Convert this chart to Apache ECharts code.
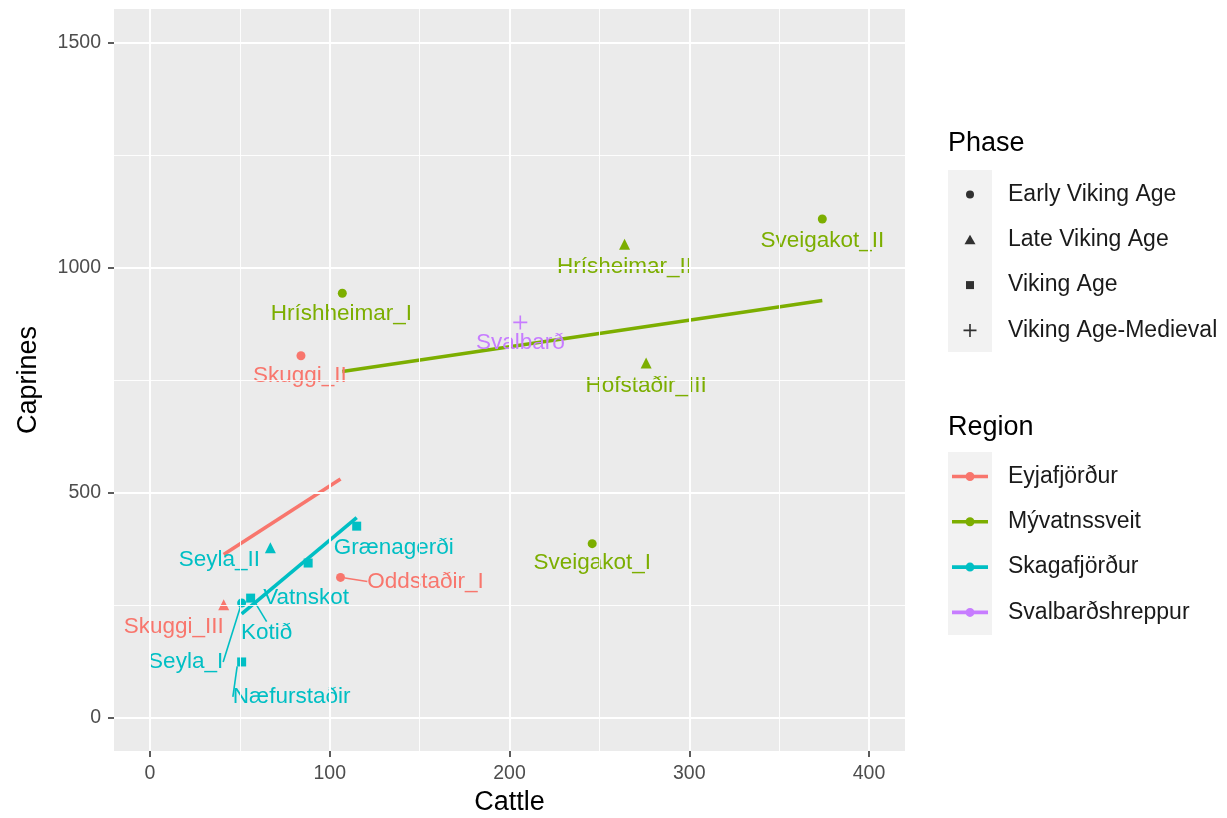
<!DOCTYPE html>
<html>
<head>
<meta charset="utf-8">
<script src="https://cdn.jsdelivr.net/npm/echarts@6/dist/echarts.min.js"></script>
<style>
  html, body { margin: 0; padding: 0; background: #ffffff; }
  #chart { width: 1227px; height: 818px; }
</style>
</head>
<body>
<div id="chart"></div>
<script>
// Livestock counts per site
const sites    = ['Sveigakot_II', 'Hrísheimar_II', 'Hríshheimar_I', 'Svalbarð', 'Skuggi_II', 'Hofstaðir_III', 'Sveigakot_I',
                  'Seyla_II', 'Grænagerði', 'Oddstaðir_I', 'Vatnskot', 'Kotið', 'Seyla_I', 'Næfurstaðir', 'Skuggi_III'];
const cattle   = [374, 264, 107, 206, 84, 276, 246, 67, 115, 106, 88, 56, 51, 51, 41];
const caprines = [1108, 1052, 943, 878, 804, 788, 386, 377, 425, 311, 343, 265, 254, 123, 250];
const phase    = ['Early Viking Age', 'Late Viking Age', 'Early Viking Age', 'Viking Age-Medieval', 'Early Viking Age',
                  'Late Viking Age', 'Early Viking Age', 'Late Viking Age', 'Viking Age', 'Early Viking Age',
                  'Viking Age', 'Viking Age', 'Early Viking Age', 'Viking Age', 'Late Viking Age'];
const region   = ['Mývatnssveit', 'Mývatnssveit', 'Mývatnssveit', 'Svalbarðshreppur', 'Eyjafjörður', 'Mývatnssveit',
                  'Mývatnssveit', 'Skagafjörður', 'Skagafjörður', 'Eyjafjörður', 'Skagafjörður', 'Skagafjörður',
                  'Skagafjörður', 'Skagafjörður', 'Eyjafjörður'];

const phases  = ['Early Viking Age', 'Late Viking Age', 'Viking Age', 'Viking Age-Medieval'];
const regions = ['Eyjafjörður', 'Mývatnssveit', 'Skagafjörður', 'Svalbarðshreppur'];

// Axis ticks
const xTicks = [0, 100, 200, 300, 400];
const xMinor = [50, 150, 250, 350];
const yTicks = [0, 500, 1000, 1500];
const yMinor = [250, 750, 1250];

// ---- styling ----
const FONT = '"Liberation Sans", Arial, Helvetica, sans-serif';
const regionColor = {
  'Eyjafjörður': '#F8766D',
  'Mývatnssveit': '#7CAE00',
  'Skagafjörður': '#00BFC4',
  'Svalbarðshreppur': '#C77CFF'
};
const PLUS = 'path://M5.3,0H6.7V12H5.3Z M0,5.3H12V6.7H0Z';
const phaseSymbol = {
  'Early Viking Age':    { symbol: 'circle',   size: 9 },
  'Late Viking Age':     { symbol: 'triangle', size: 11 },
  'Viking Age':          { symbol: 'rect',     size: 9 },
  'Viking Age-Medieval': { symbol: PLUS,       size: 14 }
};
// legend keys (66 x 14 box, drawn centred)
const phaseIcon = {
  'Early Viking Age':    'path://M0,0M66,14M29,7a4,4 0 1,1 8,0a4,4 0 1,1 -8,0z',
  'Late Viking Age':     'path://M0,0M66,14M33,2L38.5,11.5L27.5,11.5z',
  'Viking Age':          'path://M0,0M66,14M29,3h8v8h-8z',
  'Viking Age-Medieval': 'path://M0,0M66,14M32.2,0.5h1.6v13h-1.6z M26.5,6.2h13v1.6h-13z'
};
const regionIcon = 'path://M0,0M66,14M15,5.2h36v3.6h-36z M28.5,7a4.5,4.5 0 1,1 9,0a4.5,4.5 0 1,1 -9,0z';

// label placement (pixel offset from the point) and leader lines
const labelShift = {
  'Sveigakot_II': [0, 22], 'Hrísheimar_II': [0, 23], 'Hríshheimar_I': [-1, 21], 'Svalbarð': [0, 20],
  'Skuggi_II': [-1, 20], 'Hofstaðir_III': [0, 23], 'Sveigakot_I': [0, 19], 'Seyla_II': [-51, 12],
  'Grænagerði': [37, 22], 'Oddstaðir_I': [85, 4], 'Vatnskot': [-2, 35], 'Kotið': [16, 35],
  'Seyla_I': [-56, 59], 'Næfurstaðir': [50, 35], 'Skuggi_III': [-50, 22]
};
const withLeader = { 'Oddstaðir_I': 1, 'Kotið': 1, 'Seyla_I': 1, 'Næfurstaðir': 1 };

// least-squares fit per region, drawn across the region's cattle range
function fitLine(xs, ys) {
  const n = xs.length;
  const mx = xs.reduce((a, b) => a + b, 0) / n;
  const my = ys.reduce((a, b) => a + b, 0) / n;
  let sxy = 0, sxx = 0;
  for (let i = 0; i < n; i++) { sxy += (xs[i] - mx) * (ys[i] - my); sxx += (xs[i] - mx) ** 2; }
  const b = sxy / sxx, a = my - b * mx;
  const lo = Math.min(...xs), hi = Math.max(...xs);
  return [[lo, a + b * lo], [hi, a + b * hi]];
}

const series = [];

// panel grid lines
series.push({
  type: 'line', data: [], z: 1, silent: true,
  markLine: {
    silent: true, symbol: 'none', label: { show: false }, animation: false,
    data: [
      ...xMinor.map(v => ({ xAxis: v, lineStyle: { color: '#FFFFFF', width: 0.9, type: 'solid' } })),
      ...yMinor.map(v => ({ yAxis: v, lineStyle: { color: '#FFFFFF', width: 0.9, type: 'solid' } })),
      ...xTicks.map(v => ({ xAxis: v, lineStyle: { color: '#FFFFFF', width: 1.9, type: 'solid' } })),
      ...yTicks.map(v => ({ yAxis: v, lineStyle: { color: '#FFFFFF', width: 1.9, type: 'solid' } }))
    ]
  }
});

regions.forEach(r => {
  const idx = sites.map((s, i) => i).filter(i => region[i] === r);
  if (idx.length > 1) {
    series.push({
      name: r, type: 'line', z: 3, silent: true, showSymbol: false, symbol: 'none',
      data: fitLine(idx.map(i => cattle[i]), idx.map(i => caprines[i])),
      lineStyle: { color: regionColor[r], width: 3.6 },
      itemStyle: { color: regionColor[r] }
    });
  }
  series.push({
    name: r, type: 'scatter', z: 4,
    itemStyle: { color: regionColor[r], opacity: 1 },
    data: idx.map(i => ({
      name: sites[i],
      value: [cattle[i], caprines[i]],
      symbol: phaseSymbol[phase[i]].symbol,
      symbolSize: phaseSymbol[phase[i]].size,
      labelLine: { show: !!withLeader[sites[i]], lineStyle: { color: regionColor[r], width: 1.6 } }
    })),
    label: {
      show: true, position: 'inside', formatter: '{b}',
      color: regionColor[r], fontFamily: FONT, fontSize: 22.5
    },
    labelLayout: p => {
      const d = labelShift[sites[idx[p.dataIndex]]] || [0, 20];
      return { dx: d[0], dy: d[1] };
    },
    labelLine: { show: false, lineStyle: { color: regionColor[r], width: 1.6 } }
  });
});

// phase keys (legend only)
phases.forEach(p => {
  series.push({ name: p, type: 'scatter', data: [], itemStyle: { color: '#000000' } });
});

const option = {
  backgroundColor: '#FFFFFF',
  animation: false,
  textStyle: { fontFamily: FONT },
  grid: {
    left: 114, right: 322, top: 9, bottom: 67, show: true, backgroundColor: '#EBEBEB', borderWidth: 0,
    containLabel: false, outerBoundsMode: 'none'
  },
  xAxis: {
    type: 'value', min: -20, max: 420,
    name: 'Cattle', nameLocation: 'middle', nameGap: 38,
    nameTextStyle: { color: '#000000', fontSize: 27, fontFamily: FONT },
    axisLine: { show: true, onZero: false, lineStyle: { color: 'rgba(0,0,0,0)' } },
    axisTick: { show: true, customValues: xTicks, length: 6, lineStyle: { color: '#333333', width: 1.6 } },
    axisLabel: { customValues: xTicks, color: '#4D4D4D', fontSize: 19.5, margin: 13, fontFamily: FONT,
                 formatter: v => String(v) },
    splitLine: { show: false }
  },
  yAxis: {
    type: 'value', min: -75, max: 1575,
    name: 'Caprines', nameLocation: 'middle', nameGap: 72, nameRotate: 90,
    nameTextStyle: { color: '#000000', fontSize: 27, fontFamily: FONT },
    axisLine: { show: true, onZero: false, lineStyle: { color: 'rgba(0,0,0,0)' } },
    axisTick: { show: true, customValues: yTicks, length: 6, lineStyle: { color: '#333333', width: 1.6 } },
    axisLabel: { customValues: yTicks, color: '#4D4D4D', fontSize: 19.5, margin: 13, fontFamily: FONT,
                 formatter: v => String(v) },
    splitLine: { show: false }
  },
  title: [
    { text: 'Phase', left: 948, top: 130, padding: 0,
      textStyle: { fontSize: 27, fontWeight: 'normal', color: '#000', fontFamily: FONT } },
    { text: 'Region', left: 948, top: 414, padding: 0,
      textStyle: { fontSize: 27, fontWeight: 'normal', color: '#000', fontFamily: FONT } }
  ],
  legend: [
    {
      orient: 'vertical', left: 932, top: 178, itemWidth: 66, itemHeight: 14, itemGap: 22.3,
      selectedMode: false,
      textStyle: { fontSize: 23, color: '#1A1A1A', fontFamily: FONT },
      data: phases.map(p => ({ name: p, icon: phaseIcon[p] }))
    },
    {
      orient: 'vertical', left: 932, top: 460, itemWidth: 66, itemHeight: 14, itemGap: 22.3,
      selectedMode: false,
      textStyle: { fontSize: 23, color: '#1A1A1A', fontFamily: FONT },
      data: regions.map(r => ({ name: r, icon: regionIcon }))
    }
  ],
  graphic: [
    { type: 'rect', left: 948, top: 170, z: -1, shape: { width: 44, height: 182 }, style: { fill: '#F2F2F2' } },
    { type: 'rect', left: 948, top: 452, z: -1, shape: { width: 44, height: 183 }, style: { fill: '#F2F2F2' } }
  ],
  series: series
};

const chart = echarts.init(document.getElementById('chart'), null, { renderer: 'canvas' });
chart.setOption(option);
</script>
</body>
</html>
